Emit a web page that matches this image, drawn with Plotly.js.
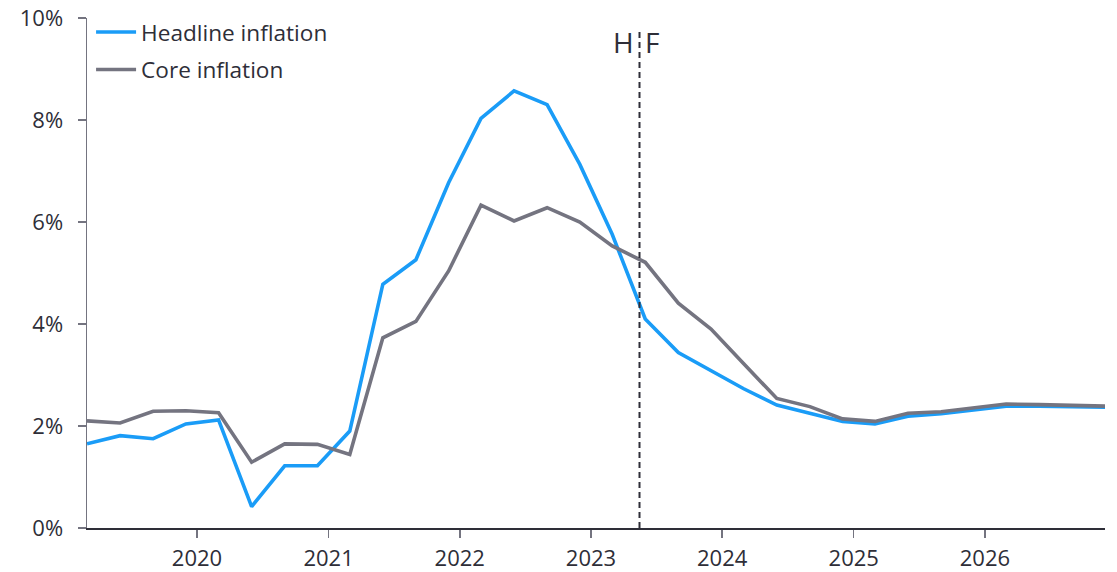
<!DOCTYPE html>
<html>
<head>
<meta charset="utf-8">
<script src="https://cdn.plot.ly/plotly-3.0.1.min.js"></script>
<style>
  html, body { margin: 0; padding: 0; background: #ffffff; }
  #chart { width: 1117px; height: 572px; }
</style>
</head>
<body>
<div id="chart"></div>
<script>
// Quarterly observations and forecasts (dated at the quarter's final month)
const quarters = [
  "2019-03","2019-06","2019-09","2019-12",
  "2020-03","2020-06","2020-09","2020-12",
  "2021-03","2021-06","2021-09","2021-12",
  "2022-03","2022-06","2022-09","2022-12",
  "2023-03","2023-06","2023-09","2023-12",
  "2024-03","2024-06","2024-09","2024-12",
  "2025-03","2025-06","2025-09","2025-12",
  "2026-03","2026-06","2026-09","2026-12"
];

const headline = [
  1.65, 1.81, 1.75, 2.04,
  2.12, 0.42, 1.22, 1.22,
  1.90, 4.78, 5.26, 6.77,
  8.03, 8.57, 8.30, 7.13,
  5.76, 4.10, 3.44, 3.09,
  2.73, 2.41, 2.24, 2.09,
  2.04, 2.19, 2.24, 2.32,
  2.39, 2.39, 2.38, 2.37
];

const core = [
  2.10, 2.06, 2.29, 2.30,
  2.26, 1.29, 1.65, 1.64,
  1.44, 3.73, 4.05, 5.04,
  6.33, 6.02, 6.28, 6.00,
  5.53, 5.21, 4.41, 3.90,
  3.22, 2.54, 2.38, 2.14,
  2.09, 2.25, 2.28, 2.36,
  2.43, 2.42, 2.40, 2.39
];

const yearTicks = ["2020-01-01","2021-01-01","2022-01-01","2023-01-01","2024-01-01","2025-01-01","2026-01-01"];
const yearLabels = ["2020","2021","2022","2023","2024","2025","2026"];
const pctTicks = [0, 2, 4, 6, 8, 10];
const pctLabels = ["0%", "2%", "4%", "6%", "8%", "10%"];

// Boundary between history (H) and forecast (F)
const splitDate = "2023-05-16";

const FONT = "Open Sans, Lato, sans-serif";
const TEXT = "#2e2e38";
const BLUE = "#1a9cf7";
const GREY = "#747480";

const traces = [
  {
    x: quarters, y: headline, type: "scatter", mode: "lines",
    name: "Headline inflation", legendgroup: "a",
    line: { color: BLUE, width: 3.6 }
  },
  {
    x: quarters, y: core, type: "scatter", mode: "lines",
    name: "Core inflation", legendgroup: "b",
    line: { color: GREY, width: 3.6 }
  }
];

const layout = {
  width: 1117, height: 572,
  margin: { l: 87, r: 12, t: 17, b: 44 },
  paper_bgcolor: "#ffffff", plot_bgcolor: "#ffffff",
  font: { family: FONT, size: 22, color: TEXT },
  showlegend: true,
  legend: {
    x: 0.004, y: 1.012, xanchor: "left", yanchor: "top",
    bgcolor: "rgba(0,0,0,0)", borderwidth: 0,
    traceorder: "grouped", tracegroupgap: 5, itemwidth: 40,
    font: { family: FONT, size: 22.6, color: TEXT }
  },
  xaxis: {
    type: "date",
    range: ["2019-03-01", "2026-12-01"],
    tickmode: "array", tickvals: yearTicks, ticktext: yearLabels,
    ticks: "outside", ticklen: 8, tickwidth: 1.5, tickcolor: "#747480",
    showline: true, linecolor: "#2e2e38", linewidth: 1.5,
    showgrid: false, zeroline: false,
    ticklabelstandoff: 2,
    tickfont: { family: FONT, size: 22, color: TEXT }
  },
  yaxis: {
    range: [0, 10],
    tickmode: "array", tickvals: pctTicks, ticktext: pctLabels,
    ticks: "outside", ticklen: 8, tickwidth: 1.5, tickcolor: "#747480",
    showline: true, linecolor: "#747480", linewidth: 1.5,
    showgrid: false, zeroline: false,
    ticklabelstandoff: 10,
    tickfont: { family: FONT, size: 22, color: TEXT }
  },
  shapes: [
    {
      type: "line", xref: "x", yref: "paper",
      x0: splitDate, x1: splitDate, y0: 0, y1: 0.975,
      line: { color: "#2e2e38", width: 2, dash: "6px,4px" }
    }
  ],
  annotations: [
    {
      xref: "x", yref: "paper", x: splitDate, y: 0.952,
      text: "H", showarrow: false, xanchor: "right", yanchor: "middle",
      xshift: -4, font: { family: FONT, size: 28, color: TEXT }
    },
    {
      xref: "x", yref: "paper", x: splitDate, y: 0.952,
      text: "F", showarrow: false, xanchor: "left", yanchor: "middle",
      xshift: 3, font: { family: FONT, size: 28, color: TEXT }
    }
  ]
};

Plotly.newPlot("chart", traces, layout, { displayModeBar: false, staticPlot: true });
</script>
</body>
</html>
